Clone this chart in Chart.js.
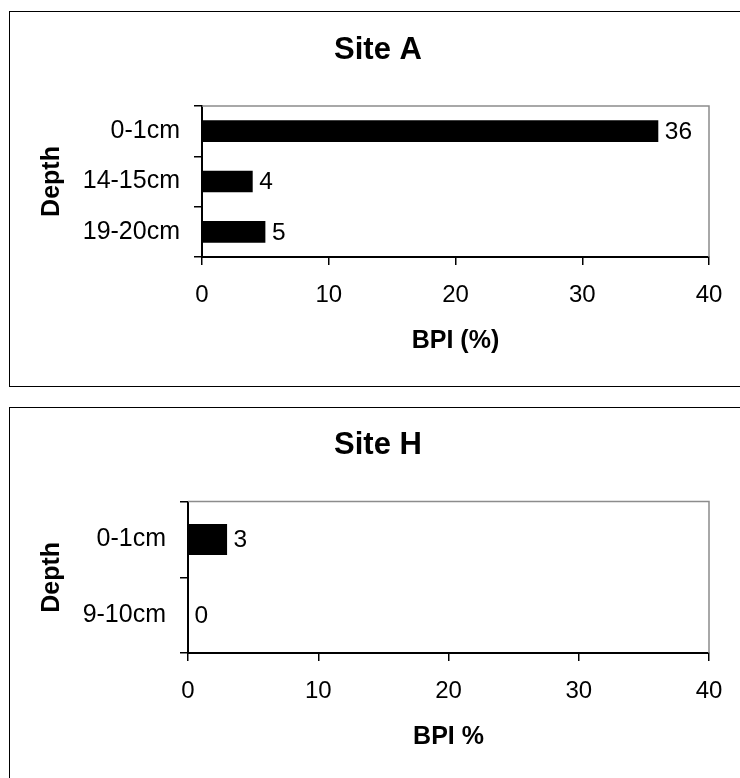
<!DOCTYPE html>
<html>
<head>
<meta charset="utf-8">
<title>BPI by depth</title>
<script src="https://cdn.jsdelivr.net/npm/chart.js@4/dist/chart.umd.min.js"></script>
<style>
    html, body { margin: 0; padding: 0; background: #fff; }
    body { width: 740px; height: 778px; overflow: hidden; position: relative; }
    .panel { position: absolute; left: 9px; width: 800px; box-sizing: border-box; border: 1px solid #000; }
    #panelA { top: 11px; height: 376px; }
    #panelH { top: 407px; height: 420px; }
    canvas { position: absolute; left: 0; }
    #chartA { top: 0; }
    #chartH { top: 395px; }
</style>
</head>
<body>
<div class="panel" id="panelA"></div>
<div class="panel" id="panelH"></div>
<canvas id="chartA" width="740" height="395"></canvas>
<canvas id="chartH" width="740" height="383"></canvas>
<script>
(function () {
    'use strict';

    // ── 資料 ─────────────────────────────────────────────────
    var siteATitle  = 'Site A';
    var siteALabels = ['0-1cm', '14-15cm', '19-20cm'];
    var siteAValues = [36, 4, 5];
    var siteAXTitle = 'BPI (%)';

    var siteHTitle  = 'Site H';
    var siteHLabels = ['0-1cm', '9-10cm'];
    var siteHValues = [3, 0];
    var siteHXTitle = 'BPI %';

    var bpiMin  = 0;
    var bpiMax  = 40;
    var bpiStep = 10;

    var FONT = "'Liberation Sans', Arial, Helvetica, sans-serif";
    Chart.defaults.font.family = FONT;
    Chart.defaults.color = '#000';

    // 繪圖區上、右兩邊的灰框
    var plotFrame = {
        id: 'plotFrame',
        beforeDatasetsDraw: function (chart) {
            var a = chart.chartArea, ctx = chart.ctx;
            ctx.save();
            ctx.strokeStyle = '#8c8c8c';
            ctx.lineWidth = 1.5;
            ctx.beginPath();
            ctx.moveTo(a.left, a.top);
            ctx.lineTo(a.right, a.top);
            ctx.lineTo(a.right, a.bottom);
            ctx.stroke();
            ctx.restore();
        }
    };

    // 長條右側的數值標籤
    var valueLabels = {
        id: 'valueLabels',
        afterDatasetsDraw: function (chart) {
            var ctx = chart.ctx;
            var meta = chart.getDatasetMeta(0);
            var data = chart.data.datasets[0].data;
            ctx.save();
            ctx.font = '24.5px ' + FONT;
            ctx.fillStyle = '#000';
            ctx.textAlign = 'left';
            ctx.textBaseline = 'middle';
            meta.data.forEach(function (bar, i) {
                ctx.fillText(String(data[i]), bar.x + 6.5, bar.y + 1);
            });
            ctx.restore();
        }
    };

    function makeChart(id, opt) {
        return new Chart(document.getElementById(id).getContext('2d'), {
            type: 'bar',
            data: {
                labels: opt.labels,
                datasets: [{
                    data: opt.values,
                    backgroundColor: '#000',
                    borderWidth: 0,
                    barPercentage: opt.barPct,
                    categoryPercentage: 1
                }]
            },
            options: {
                indexAxis: 'y',
                responsive: false,
                animation: false,
                events: [],
                layout: { padding: { left: 16, right: 0, top: 0, bottom: opt.padBottom } },
                plugins: {
                    legend: { display: false },
                    tooltip: { enabled: false },
                    title: {
                        display: true,
                        text: opt.title,
                        font: { size: 31, weight: 'bold' },
                        color: '#000',
                        padding: { top: 31.4, bottom: opt.titleGap }
                    }
                },
                scales: {
                    x: {
                        min: bpiMin,
                        max: bpiMax,
                        ticks: {
                            stepSize: bpiStep,
                            font: { size: 24 },
                            color: '#000',
                            padding: 15.5,
                            maxRotation: 0,
                            autoSkip: false
                        },
                        grid: { drawOnChartArea: false, color: '#000', lineWidth: 1.5, tickLength: 8 },
                        border: { color: '#000', width: 2 },
                        title: {
                            display: true,
                            text: opt.xTitle,
                            font: { size: 25, weight: 'bold' },
                            color: '#000',
                            padding: { top: 0, bottom: 11 }
                        },
                        afterFit: function (s) {
                            s.height = 110;
                            s.paddingLeft = 0;
                            s.paddingRight = 31;
                        }
                    },
                    y: {
                        ticks: {
                            font: { size: 25 },
                            color: '#000',
                            padding: 14,
                            autoSkip: false
                        },
                        grid: { drawOnChartArea: false, color: '#000', lineWidth: 1.5, tickLength: 8 },
                        border: { color: '#000', width: 2 },
                        title: {
                            display: true,
                            text: 'Depth',
                            font: { size: 25, weight: 'bold' },
                            color: '#000',
                            padding: { top: 21.5, bottom: 0 }
                        },
                        afterFit: function (s) {
                            s.width = opt.yWidth;
                            s.paddingTop = 0;
                            s.paddingBottom = 0;
                        }
                    }
                }
            },
            plugins: [plotFrame, valueLabels]
        });
    }

    makeChart('chartA', {
        title: siteATitle, labels: siteALabels, values: siteAValues, xTitle: siteAXTitle,
        barPct: 0.43, yWidth: 186, titleGap: 37.4, padBottom: 28
    });

    makeChart('chartH', {
        title: siteHTitle, labels: siteHLabels, values: siteHValues, xTitle: siteHXTitle,
        barPct: 0.41, yWidth: 172, titleGap: 38, padBottom: 15
    });
})();
</script>
</body>
</html>
